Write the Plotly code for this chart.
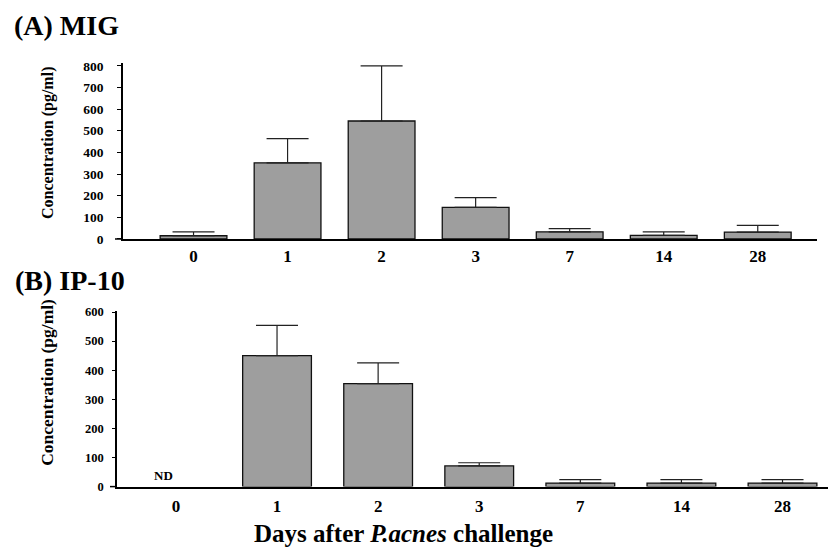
import plotly.graph_objects as go

days = ["0", "1", "2", "3", "7", "14", "28"]

mig_mean = [15, 352, 545, 146, 33, 17, 32]
mig_err = [18, 112, 255, 45, 15, 16, 31]

ip10_days = ["1", "2", "3", "7", "14", "28"]
ip10_mean = [450, 354, 71, 12, 12, 12]
ip10_err = [104, 71, 11, 12, 12, 12]

mig_ticks = [0, 100, 200, 300, 400, 500, 600, 700, 800]
ip10_ticks = [0, 100, 200, 300, 400, 500, 600]

FONT = "Liberation Serif"
BAR_COLOR = "#9e9e9e"
W, H = 828, 557

fig = go.Figure()

fig.add_trace(go.Bar(
    x=days, y=mig_mean, xaxis="x", yaxis="y", width=0.71,
    marker=dict(color=BAR_COLOR, line=dict(color="#111111", width=1.3)),
    error_y=dict(type="data", array=mig_err, arrayminus=[0] * len(mig_err),
                 symmetric=False, color="#222222", thickness=1.2, width=21),
    showlegend=False, hoverinfo="skip",
))
fig.add_trace(go.Bar(
    x=ip10_days, y=ip10_mean, xaxis="x2", yaxis="y2", width=0.68,
    marker=dict(color=BAR_COLOR, line=dict(color="#111111", width=1.3)),
    error_y=dict(type="data", array=ip10_err, arrayminus=[0] * len(ip10_err),
                 symmetric=False, color="#222222", thickness=1.2, width=21),
    showlegend=False, hoverinfo="skip",
))

tickfont_x = dict(family=FONT, size=17, color="black", weight="bold")

fig.update_layout(
    width=W, height=H,
    margin=dict(l=0, r=0, t=0, b=0),
    paper_bgcolor="white", plot_bgcolor="white",
    xaxis=dict(domain=[123 / W, 817 / W], anchor="y", type="category",
               categoryorder="array", categoryarray=days,
               range=[-0.75, 6.63], showline=True, linecolor="black", linewidth=1.5,
               ticks="", tickfont=tickfont_x, showgrid=False, zeroline=False,
               ticklabelstandoff=1),
    yaxis=dict(domain=[1 - 239 / H, 1 - 58 / H], anchor="x", range=[0, 815],
               tickvals=mig_ticks, showline=True, linecolor="black", linewidth=1.5,
               ticks="outside", ticklen=4, tickcolor="black",
               tickfont=dict(family=FONT, size=13.5, color="black", weight="bold"),
               ticklabelstandoff=11, showgrid=False, zeroline=False),
    xaxis2=dict(domain=[117 / W, 1.0], anchor="y2", type="category",
                categoryorder="array", categoryarray=days,
                range=[-0.583, 6.45], showline=True, linecolor="black", linewidth=1.5,
                ticks="", tickfont=tickfont_x, showgrid=False, zeroline=False,
                ticklabelstandoff=3),
    yaxis2=dict(domain=[1 - 493 / H, 1 - 313 / H], anchor="x2", range=[0, 603],
                tickvals=ip10_ticks, showline=True, linecolor="black", linewidth=1.5,
                ticks="outside", ticklen=3, tickcolor="black",
                tickfont=dict(family=FONT, size=12.5, color="black", weight="bold"),
                ticklabelstandoff=6, showgrid=False, zeroline=False),
    shapes=[
        dict(type="line", xref="paper", yref="paper", x0=115 / W, x1=123 / W,
             y0=1 - 239 / H, y1=1 - 239 / H, line=dict(color="black", width=1.5)),
        dict(type="line", xref="paper", yref="paper", x0=110 / W, x1=117 / W,
             y0=1 - 493 / H, y1=1 - 493 / H, line=dict(color="black", width=1.5)),
    ],
)

ann = [
    dict(text="(A) MIG", x=12 / W, y=1 - 20 / H, xanchor="left", yanchor="middle",
         font=dict(family=FONT, size=28, color="black", weight="bold")),
    dict(text="(B) IP-10", x=13 / W, y=1 - 282 / H, xanchor="left", yanchor="middle",
         font=dict(family=FONT, size=28, color="black", weight="bold")),
    dict(text="Concentration (pg/ml)", x=48 / W, y=1 - 140.5 / H, textangle=-90,
         xanchor="center", yanchor="middle",
         font=dict(family=FONT, size=16, color="black", weight="bold")),
    dict(text="Concentration (pg/ml)", x=47 / W, y=1 - 386.5 / H, textangle=-90,
         xanchor="center", yanchor="middle",
         font=dict(family=FONT, size=17.5, color="black", weight="bold")),
    dict(text="Days after <i>P.acnes</i> challenge", x=403.5 / W, y=1 - 541 / H,
         xanchor="center", yanchor="middle",
         font=dict(family=FONT, size=25, color="black", weight="bold")),
]
for a in ann:
    a.update(xref="paper", yref="paper", showarrow=False)

ann.append(dict(text="ND", x="0", y=0, xref="x2", yref="y2", xanchor="center",
                yanchor="bottom", yshift=2, xshift=-12, showarrow=False,
                font=dict(family=FONT, size=13, color="black", weight="bold")))

fig.update_layout(annotations=ann)

fig.write_html("out.html", config={"displayModeBar": False},
               post_script="document.body.style.margin='0';document.body.style.overflow='hidden';")
